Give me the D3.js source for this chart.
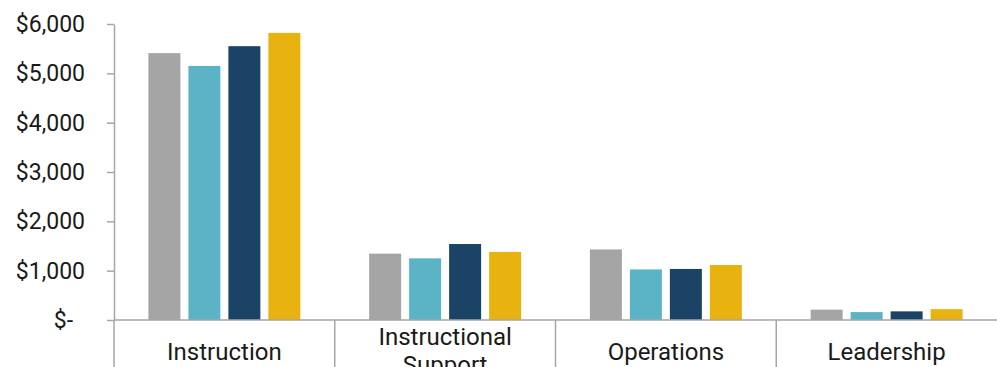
<!DOCTYPE html>
<html>
<head>
<meta charset="utf-8">
<script src="https://cdn.jsdelivr.net/npm/d3@7"></script>
<style>
  body { margin: 0; background: #fff; }
  svg text { font-family: Roboto, sans-serif; fill: #1a1a1a; }
  .axis path, .axis line { stroke: #a6a6a6; }
</style>
</head>
<body>
<svg id="chart" width="997" height="367"></svg>
<script>
  // data
  var categories = ["Instruction", "Instructional Support", "Operations", "Leadership"];
  var seriesKeys = ["s1", "s2", "s3", "s4"];
  var s1 = [5410, 1345, 1430, 210];
  var s2 = [5150, 1250, 1025, 160];
  var s3 = [5550, 1540, 1035, 175];
  var s4 = [5820, 1380, 1115, 220];
  var yTicks = [0, 1000, 2000, 3000, 4000, 5000, 6000];

  var colors = {s1: "#a5a5a5", s2: "#5bb3c6", s3: "#1b4366", s4: "#e8b311"};
  var seriesVals = {s1: s1, s2: s2, s3: s3, s4: s4};

  var data = categories.map(function(c, i) {
    var row = {cat: c};
    seriesKeys.forEach(k => row[k] = seriesVals[k][i]);
    return row;
  });

  var svg = d3.select("#chart");
  var margin = {top: 24, left: 114, right: 0, bottom: 47},
      width = 997, height = 367;

  var x0 = d3.scaleBand()
    .domain(categories)
    .range([margin.left, width - margin.right])
    .padding(0);

  var x1 = d3.scaleBand()
    .domain(seriesKeys)
    .range([0, x0.bandwidth()])
    .paddingInner(0.2)
    .paddingOuter(0.86);

  var y = d3.scaleLinear()
    .domain([0, 6000])
    .range([height - margin.bottom, margin.top]);

  var fmt = d3.format(",");

  // bars
  svg.append("g")
    .selectAll("g")
    .data(data)
    .enter()
    .append("g")
    .attr("transform", d => `translate(${x0(d.cat)},0)`)
    .selectAll("rect")
    .data(d => seriesKeys.map(k => ({key: k, value: d[k]})))
    .enter()
    .append("rect")
    .attr("x", d => x1(d.key))
    .attr("y", d => y(d.value))
    .attr("width", x1.bandwidth())
    .attr("height", d => y(0) - y(d.value))
    .attr("fill", d => colors[d.key]);

  // y axis
  var yAxis = svg.append("g")
    .attr("class", "axis")
    .attr("transform", `translate(${margin.left},0)`)
    .call(d3.axisLeft(y)
      .tickValues(yTicks)
      .tickSizeInner(7)
      .tickSizeOuter(0)
      .tickPadding(22)
      .tickFormat(d => d === 0 ? "$-" : "$" + fmt(d)));
  yAxis.selectAll("text")
    .style("font-size", "23px")
    .attr("fill", "#1a1a1a");
  yAxis.selectAll(".tick")
    .filter(d => d === 0)
    .select("text")
    .attr("dx", "-12");
  yAxis.select(".domain").attr("stroke-width", 1.5);
  yAxis.selectAll(".tick line").attr("stroke-width", 1.5);

  // baseline and category dividers
  var xAxis = svg.append("g").attr("class", "axis");
  xAxis.append("line")
    .attr("x1", margin.left)
    .attr("x2", width - margin.right)
    .attr("y1", y(0))
    .attr("y2", y(0))
    .attr("stroke-width", 1.5);
  xAxis.selectAll(".divider")
    .data(categories)
    .enter()
    .append("line")
    .attr("class", "divider")
    .attr("x1", d => x0(d))
    .attr("x2", d => x0(d))
    .attr("y1", y(0))
    .attr("y2", height)
    .attr("stroke-width", 1.5);

  // category labels, one word per line when the name is long
  var lab = svg.append("g")
    .selectAll("text")
    .data(categories)
    .enter()
    .append("text")
    .attr("text-anchor", "middle")
    .attr("x", d => x0(d) + x0.bandwidth() / 2)
    .style("font-size", "24px");
  lab.each(function(d) {
    var words = d.split(" ");
    var t = d3.select(this);
    var startY = words.length > 1 ? 345 : 360;
    words.forEach(function(w, i) {
      t.append("tspan")
        .attr("x", x0(d) + x0.bandwidth() / 2)
        .attr("y", startY + i * 28)
        .text(w);
    });
  });
</script>
</body>
</html>
